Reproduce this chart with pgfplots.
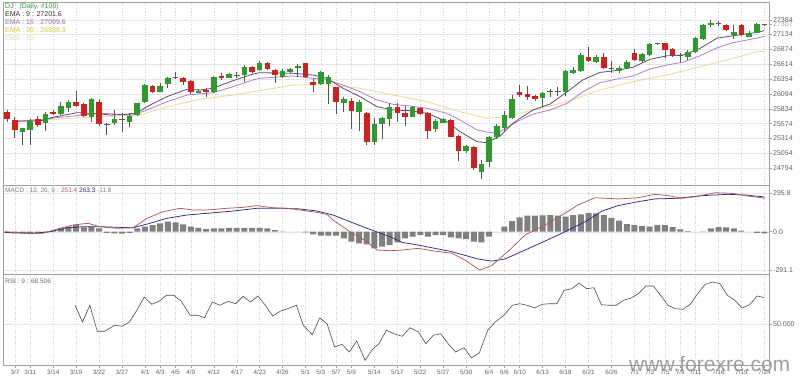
\documentclass[border=0pt]{standalone}
\usepackage{pgfplots}
\pgfplotsset{compat=1.18}
\usepackage{pgfplotstable}
\usepackage{fontspec}
\setmainfont{Liberation Sans}

\definecolor{upfill}{HTML}{2E9B2E}
\definecolor{dnfill}{HTML}{D02020}
\definecolor{wickc}{HTML}{555555}
\definecolor{ema9}{HTML}{5A4E6C}
\definecolor{ema15}{HTML}{B87CC8}
\definecolor{ema30}{HTML}{E8DA96}
\definecolor{macdc}{HTML}{B05A5A}
\definecolor{sigc}{HTML}{2E2E80}
\definecolor{histc}{HTML}{808080}
\definecolor{framec}{HTML}{A0A0A0}
\definecolor{djc}{HTML}{3A9A3A}
\definecolor{emaylw}{HTML}{D8C24A}

\pgfplotstableread{
i o h l c
0 25773 25813 25609 25661
1 25638 25686 25318 25464
2 25434 25500 25201 25493
3 25464 25651 25201 25626
4 25651 25708 25511 25546
5 25581 25783 25451 25743
6 25783 25813 25726 25743
7 25743 25948 25726 25888
8 25843 25988 25783 25958
9 25948 26145 25871 25888
10 25913 25930 25686 25708
11 25686 26018 25609 26005
12 25958 26000 25534 25563
13 25568 25591 25376 25568
14 25581 25813 25551 25656
15 25656 25755 25434 25656
16 25609 25755 25521 25708
17 25726 25941 25708 25941
18 25958 26262 25941 26250
19 26233 26250 26116 26133
20 26133 26280 26123 26233
21 26268 26395 26193 26367
22 26385 26483 26350 26385
23 26367 26395 26250 26308
24 26325 26338 26093 26133
25 26116 26175 26105 26151
26 26163 26193 26046 26123
27 26133 26408 26116 26395
28 26408 26465 26338 26367
29 26378 26465 26367 26442
30 26425 26483 26367 26425
31 26425 26600 26308 26570
32 26560 26582 26455 26483
33 26512 26670 26495 26640
34 26640 26657 26512 26525
35 26512 26525 26280 26425
36 26395 26525 26367 26500
37 26472 26542 26455 26530
38 26560 26617 26395 26582
39 26629 26640 26367 26385
40 26308 26350 26133 26250
41 26268 26495 26250 26472
42 26268 26425 25913 26385
43 26210 26220 25743 25948
44 25941 26046 25783 26000
45 25976 26018 25481 25801
46 25783 25988 25451 25948
47 25755 25783 25201 25259
48 25259 25668 25201 25568
49 25568 25696 25306 25668
50 25651 25941 25539 25860
51 25871 25941 25609 25766
52 25766 25883 25539 25686
53 25696 25883 25686 25871
54 25853 25871 25726 25743
55 25766 25783 25306 25446
56 25476 25651 25434 25621
57 25591 25679 25581 25651
58 25638 25656 25336 25346
59 25359 25376 24927 25102
60 25096 25201 25067 25184
61 25172 25184 24764 24794
62 24735 24939 24607 24864
63 24909 25359 24812 25336
64 25336 25563 25312 25539
65 25499 25796 25446 25726
66 25668 26075 25656 26000
67 26133 26250 26035 26075
68 26088 26233 25988 26046
69 26058 26075 25976 26000
70 26018 26133 25860 26116
71 26133 26180 26035 26133
72 26135 26210 26058 26135
73 26133 26512 26058 26495
74 26465 26570 26442 26512
75 26495 26804 26483 26775
76 26745 26909 26657 26675
77 26657 26775 26640 26745
78 26734 26804 26525 26542
79 26542 26675 26465 26542
80 26495 26582 26465 26542
81 26542 26687 26525 26657
82 26804 26874 26670 26687
83 26675 26804 26657 26792
84 26775 26979 26762 26967
85 26972 26990 26955 26972
86 26979 26990 26717 26862
87 26874 26892 26745 26775
88 26775 26804 26647 26775
89 26745 26862 26687 26832
90 26832 27084 26815 27067
91 27049 27311 27037 27299
92 27299 27386 27259 27339
93 27329 27369 27281 27329
94 27299 27316 27199 27212
95 27124 27299 27049 27182
96 27299 27316 27107 27124
97 27094 27194 27084 27164
98 27164 27339 27154 27316
99 27307 27312 27302 27307
}\candles

\pgfplotstableread{
i v
0 -10
1 -13
2 -13
3 -15
4 -13
5 -5
6 8
7 25
8 38
9 51
10 33
11 38
12 25
13 -8
14 -13
15 -15
16 -8
17 25
18 38
19 51
20 63
21 76
22 71
23 56
24 38
25 30
26 20
27 25
28 25
29 30
30 30
31 30
32 30
33 30
34 25
35 13
36 3
37 1
38 0
39 -5
40 -20
41 -30
42 -30
43 -30
44 -51
45 -76
46 -89
47 -96
48 -127
49 -114
50 -101
51 -81
52 -51
53 -38
54 -25
55 -38
56 -25
57 -25
58 -43
59 -51
60 -56
61 -76
62 -81
63 -38
64 0
65 38
66 81
67 109
68 122
69 122
70 125
71 127
72 122
73 114
74 127
75 132
76 144
77 139
78 127
79 106
80 84
81 58
82 51
83 43
84 38
85 51
86 51
87 35
88 18
89 5
90 0
91 2
92 25
93 35
94 33
95 25
96 8
97 0
98 -8
99 -12
}\hist

\pgfplotsset{
  panel/.style={
    scale only axis, width=766pt,
    xmin=-0.56, xmax=99.6,
    scaled y ticks=false, scaled x ticks=false,
    axis line style={framec, line width=0.6pt},
    xtick={1,3,6,9,12,15,18,20,22,24,27,30,33,36,39,41,43,45,48,51,54,57,60,63,65,67,70,73,76,79,82,84,86,88,90,93,96,99},
    xmajorgrids, ymajorgrids,
    x grid style={black!18, dotted, line width=0.4pt},
    y grid style={black!10, line width=0.4pt},
    ytick pos=right, yticklabel pos=right,
    tick align=outside, major tick length=2.5pt,
    tick style={framec, line width=0.5pt},
    yticklabel style={font=\fontsize{7}{8}\selectfont, text=black!62, inner sep=1.5pt},
    xticklabel style={font=\fontsize{6.3}{7}\selectfont, text=black!62, inner sep=0.4pt, yshift=-1.5pt},
  },
  upper/.style={xticklabels={}, xtick style={draw=none}},
  candle/.style={draw=none, mark=none, forget plot,
    error bars/.cd, y dir=both, y explicit, error mark=none,
    error bar style={draw=#1, line width=5.6pt}},
}

\begin{document}
\begin{tikzpicture}
\path[use as bounding box] (0,0) rectangle (800pt,-378pt);
\fill[white] (0,0) rectangle (800pt,-378pt);
\node[anchor=base west, inner sep=0, text=black!38, font=\fontsize{21}{21}\selectfont] at (629pt,-371pt) {www.forexre.com};

% ---------- price panel ----------
\begin{axis}[panel, upper, at={(3pt,-2pt)}, anchor=north west, height=183.5pt,
  ymin=24493, ymax=27701,
  ytick={24794,25054,25314,25574,25834,26094,26354,26614,26874,27134,27384},
  yticklabels={24794,25054,25314,25574,25834,26094,26354,26614,26874,27134,27384},
  extra y ticks={27307}, extra y tick labels={27307},
  extra y tick style={grid=none, yticklabel style={text=black!38}},
]
% EMA lines
\addplot[ema30, line width=0.8pt] coordinates {(1.27,25621) (6.89,25656) (12.12,25696) (17.35,25726) (20.88,25871) (25.2,26000) (29.51,26075) (33.04,26151) (37.36,26250) (41.81,26250) (46.12,26193) (50.44,26075) (54.88,25958) (59.2,25783) (62.73,25668) (64.43,25686) (67.04,25752) (68.74,25813) (73.19,25958) (77.51,26163) (81.82,26308) (86.27,26425) (90.58,26570) (94.9,26717) (98.04,26832) (99,26838.3)};
\addplot[ema15, line width=0.8pt] coordinates {(1.27,25609) (7.81,25696) (12.12,25756) (16.44,25726) (18.27,25813) (20.88,25958) (23.5,26075) (26.9,26116) (29.51,26220) (32.13,26338) (33.04,26367) (37.36,26408) (41.81,26338) (43.9,26250) (46.12,26133) (48.34,25988) (50.44,25913) (52.66,25883) (54.88,25843) (57.5,25755) (59.2,25638) (61.42,25464) (63.12,25417) (64.43,25434) (66.65,25609) (68.74,25743) (70.97,25813) (73.19,25930) (75.28,26133) (77.51,26290) (79.73,26355) (81.82,26410) (84.04,26530) (86.27,26600) (88.36,26650) (90.58,26760) (92.81,26900) (94.9,26990) (98.04,27070) (99,27099.6)};
\addplot[ema9, line width=0.8pt] coordinates {(1.27,25621) (4.28,25621) (5.98,25686) (9.11,25766) (10.81,25756) (12.12,25743) (13.43,25726) (15.65,25738) (16.96,25766) (18.27,25871) (20.88,26046) (23.5,26175) (25.2,26163) (26.9,26193) (29.51,26325) (32.13,26442) (33.04,26465) (37.36,26455) (39.98,26425) (41.81,26367) (43.9,26193) (46.12,26046) (48.34,25871) (50.44,25813) (52.66,25801) (54.88,25756) (57.5,25609) (59.2,25434) (61.42,25259) (62.73,25242) (64.43,25359) (66.13,25581) (67.04,25668) (68.74,25813) (70.97,25918) (73.19,26130) (75.28,26340) (77.51,26470) (79.73,26505) (81.82,26560) (84.04,26700) (86.27,26760) (88.36,26775) (90.58,26890) (92.81,27070) (94.9,27110) (98.04,27170) (99,27201.6)};
% wicks
\addplot[draw=none, mark=none, forget plot,
  error bars/.cd, y dir=both, y explicit, error mark=none,
  error bar style={draw=wickc, line width=0.9pt}]
  table[x=i, y expr={\thisrow{l}+(\thisrow{h}-\thisrow{l})/2}, y error expr={(\thisrow{h}-\thisrow{l})/2}] {\candles};
% up bodies
\addplot[restrict expr to domain={\thisrow{c}-\thisrow{o}}{0.5:100000}, candle=upfill]
  table[x=i, y expr={\thisrow{o}+(\thisrow{c}-\thisrow{o})/2}, y error expr={max(abs(\thisrow{c}-\thisrow{o})/2,9)}] {\candles};
% down bodies
\addplot[restrict expr to domain={\thisrow{c}-\thisrow{o}}{-100000:-0.5}, candle=dnfill]
  table[x=i, y expr={\thisrow{o}+(\thisrow{c}-\thisrow{o})/2}, y error expr={max(abs(\thisrow{c}-\thisrow{o})/2,9)}] {\candles};
% dojis
\addplot[only marks, mark=-, mark size=2.8pt, forget plot,
  mark options={line width=0.8pt, black!65},
  restrict expr to domain={\thisrow{c}-\thisrow{o}}{-0.5:0.5}]
  table[x=i, y=c] {\candles};
\end{axis}

\node[anchor=west, inner sep=0, font=\fontsize{7}{8}\selectfont, text=djc] at (5pt,-6.7pt) {DJ\ \ \ (Daily, \#100)};
\node[anchor=west, inner sep=0, font=\fontsize{7}{8}\selectfont, text=black!80] at (5pt,-14.5pt) {EMA : 9 : 27201.6};
\node[anchor=west, inner sep=0, font=\fontsize{7}{8}\selectfont, text=ema15!85!black] at (5pt,-22.3pt) {EMA : 15 : 27099.6};
\node[anchor=west, inner sep=0, font=\fontsize{7}{8}\selectfont, text=emaylw] at (5pt,-30.1pt) {EMA : 30 : 26838.3};
\node[anchor=west, inner sep=0, font=\fontsize{7}{8}\selectfont, text=emaylw!55] at (5pt,-37.6pt) {EMA : 30};

% ---------- MACD panel ----------
\begin{axis}[panel, upper, at={(3pt,-185.5pt)}, anchor=north west, height=88.5pt,
  ymin=-321, ymax=351,
  ytick={-291.1,0,295.8}, yticklabels={-291.1,0.0,295.8},
]
\addplot[ybar, bar width=6pt, fill=histc, draw=none, forget plot] table[x=i, y=v] {\hist};
\addplot[sigc, line width=0.75pt] coordinates {(-0.3,-5) (3.36,-12) (5.58,0) (7.81,30) (9.9,38) (12.12,38) (16.44,30) (18.66,64) (20.88,102) (23.5,127) (26.11,140) (29.51,157) (32.65,178) (36.05,178) (38.28,173) (40.5,157) (42.59,127) (44.82,76) (47.04,26) (50.05,-38) (51.62,-81) (53.71,-101) (58.15,-152) (61.55,-207) (63.38,-223) (65.08,-207) (67.7,-139) (70.31,-71) (72.93,0) (75.54,76) (77.77,157) (79.85,198) (82.48,228) (84.7,249) (87.71,254) (90.85,274) (94.25,284) (96.47,279) (98.69,266) (99,263.3)};
\addplot[macdc, line width=0.75pt] coordinates {(-0.3,0) (2.58,-12) (4.67,-12) (6.89,26) (8.59,51) (10.55,64) (12.12,38) (14.35,26) (16.44,30) (18.27,102) (20.36,152) (22.58,178) (24.28,165) (26.11,165) (28.73,178) (30.82,185) (32.65,198) (34.75,182) (36.58,178) (38.28,165) (40.5,147) (41.81,132) (42.59,89) (44.82,0) (47.04,-76) (48.35,-139) (50.05,-144) (51.62,-139) (53.71,-126) (55.93,-147) (58.15,-164) (59.85,-215) (61.81,-291.1) (63.38,-255) (65.47,-150) (67.7,-25) (70.31,51) (72.54,127) (74.63,203) (76.85,258) (79.85,249) (82.48,258) (84.7,284) (86.4,274) (88.23,254) (89.93,266) (92.55,295.8) (94.77,292) (96.47,274) (98.69,258) (99,251.4)};
\end{axis}

\node[anchor=west, inner sep=0, font=\fontsize{6.5}{7.5}\selectfont] at (5pt,-190.5pt) {\textcolor{black!50}{MACD : 12, 26, 9 : }\textcolor{macdc}{251.4} \textcolor{sigc}{263.3} \textcolor{black!50}{-11.8}};

% ---------- RSI panel ----------
\begin{axis}[panel, at={(3pt,-274pt)}, anchor=north west, height=91pt,
  ymin=21.3, ymax=85,
  ytick={50}, yticklabels={50.000},
  xtick pos=left,
  xticklabels={3/7,3/11,3/14,3/19,3/22,3/27,4/1,4/3,4/5,4/9,4/12,4/17,4/23,4/26,5/1,5/3,5/7,5/9,5/14,5/17,5/22,5/27,5/30,6/4,6/6,6/10,6/13,6/18,6/21,6/26,7/1,7/3,7/5,7/9,7/11,7/16,7/19,7/24},
]
\addplot[black!70, line width=0.6pt] coordinates {(8.86,63.1) (9.83,51.4) (10.80,63.1) (11.77,44.9) (12.74,44.9) (14.03,49.1) (15.0,48.4) (15.97,51.4) (16.94,59.6) (17.91,68.9) (18.88,63.8) (19.85,65.9) (20.81,70.1) (21.78,70.1) (22.75,65.9) (23.92,56.1) (24.89,56.1) (25.79,54.4) (26.82,65.4) (27.79,63.1) (28.89,65.9) (29.86,64.2) (30.83,69.4) (31.8,65.4) (32.77,69.6) (33.74,63.1) (34.71,55.6) (35.68,58.9) (36.65,60.7) (37.81,63.1) (38.71,49.1) (39.88,42.5) (40.85,54.2) (41.82,50.2) (42.79,33.9) (43.75,35.8) (44.72,30.4) (45.69,38.1) (46.79,24.6) (47.76,32.3) (48.6,36.2) (49.57,45.6) (50.54,43.2) (51.64,41.4) (52.67,47.4) (53.77,44.4) (54.74,36.2) (55.71,42.1) (56.68,43.2) (57.65,36.2) (58.62,30.4) (59.72,33.4) (60.69,26.4) (61.72,29.7) (62.82,45.6) (63.79,51.4) (64.95,56.1) (66.05,63.1) (67.02,64.2) (67.99,63.1) (68.96,61.2) (69.93,63.8) (70.9,64.2) (71.86,64.2) (72.83,73.6) (73.8,74.7) (74.77,78.7) (75.74,74.7) (76.71,75.4) (77.68,63.5) (78.65,63.1) (79.62,63.1) (80.59,66.6) (81.56,68.2) (82.53,71.2) (83.5,76.6) (84.47,76.6) (85.43,70.1) (86.4,63.1) (87.37,60.7) (88.34,60.3) (89.31,63.8) (90.28,71.2) (91.25,77.8) (92.22,79.4) (93.19,78.2) (94.16,70.1) (95.13,66.6) (96.1,61.2) (97.07,63.5) (98.04,69.6) (99.0,68.5)};
\end{axis}

\node[anchor=west, inner sep=0, font=\fontsize{6.5}{7.5}\selectfont, text=black!60] at (5pt,-281pt) {RSI : 9 : 68.506};
\end{tikzpicture}
\end{document}
